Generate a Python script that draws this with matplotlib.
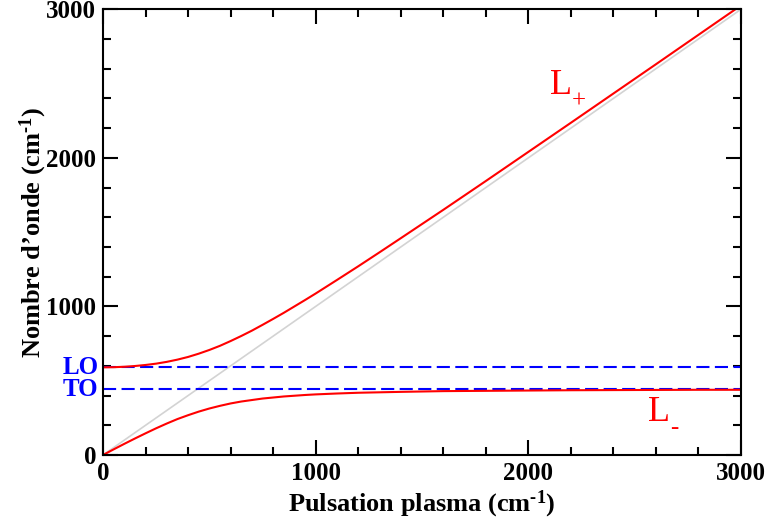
import matplotlib
matplotlib.use('Agg')
import matplotlib.pyplot as plt
from matplotlib.ticker import MultipleLocator

plt.rcParams['font.family'] = 'Liberation Serif'
plt.rcParams['mathtext.fontset'] = 'custom'
plt.rcParams['mathtext.rm'] = 'Liberation Serif:bold'
plt.rcParams['mathtext.it'] = 'Liberation Serif:italic'
plt.rcParams['mathtext.bf'] = 'Liberation Serif:bold'

# plasma pulsation (cm-1) and coupled mode frequencies
wp = [0, 50, 100, 150, 200, 250, 300, 350, 400, 450, 500, 550, 600, 650,
      700, 750, 800, 850, 900, 950, 1000, 1100, 1200, 1300, 1400,
      1600, 1800, 2000, 2200, 2400, 2600, 2800, 3000]
L_plus = [590, 591, 594, 599, 606, 615, 627, 642, 660, 682, 707, 735, 767, 801,
          837, 876, 916, 957, 1000, 1043, 1087, 1178, 1270, 1364, 1459,
          1650, 1844, 2040, 2236, 2433, 2630, 2828, 3026]
L_minus = [0, 38, 75, 111, 146, 180, 212, 242, 268, 292, 313, 331, 347, 360,
           370, 380, 387, 394, 399, 404, 408, 414, 419, 422, 425,
           430, 432, 434, 436, 437, 438, 439, 439]
diag = [0, 3000]
w_LO = 590
w_TO = 443

fig = plt.figure(figsize=(7.67, 5.27), dpi=100)
ax = fig.add_axes([0.1343, 0.1366, 0.8318, 0.8458])

ax.plot(diag, diag, c='#d3d3d3', lw=1.2)
ax.axhline(w_LO, c='blue', lw=1.5, ls=(0, (6.3, 2.6)))
ax.axhline(w_TO, c='blue', lw=1.5, ls=(0, (6.3, 2.6)))
ax.plot(wp, L_plus, c='red', lw=1.5)
ax.plot(wp, L_minus, c='red', lw=1.5)

# mode labels with subscripts
ax.text(2102, 2429, 'L', color='red', fontsize=26)
ax.annotate('+', xy=(2102, 2429), xytext=(16, -5), textcoords='offset points',
            color='red', fontsize=18, ha='left', va='center')
ax.text(2562, 229, 'L', color='red', fontsize=26)
ax.annotate('-', xy=(2562, 229), xytext=(16, -5), textcoords='offset points',
            color='red', fontsize=18, ha='left', va='center')

ax.set_xlim(0, 3000)
ax.set_ylim(0, 3000)
ax.xaxis.set_major_locator(MultipleLocator(1000))
ax.xaxis.set_minor_locator(MultipleLocator(200))
ax.yaxis.set_major_locator(MultipleLocator(1000))
ax.yaxis.set_minor_locator(MultipleLocator(200))
ax.tick_params(which='both', direction='in', top=True, right=True, width=1.5)
ax.tick_params(which='major', length=11, labelsize=18, pad=5)
ax.tick_params(which='minor', length=6)
for lab in ax.get_xticklabels() + ax.get_yticklabels():
    lab.set_fontweight('bold')
for s in ax.spines.values():
    s.set_linewidth(1.5)

ax.text(-0.007, w_LO, 'LO', color='blue', fontsize=18, fontweight='bold',
        ha='right', va='center', transform=ax.get_yaxis_transform())
ax.text(-0.007, w_TO, 'TO', color='blue', fontsize=18, fontweight='bold',
        ha='right', va='center', transform=ax.get_yaxis_transform())

ax.set_xlabel(r'Pulsation plasma (cm$^{\text{-1}}$)', fontsize=19, fontweight='bold', labelpad=3)
ax.set_ylabel(r'Nombre d’onde (cm$^{\text{-1}}$)', fontsize=19, fontweight='bold', labelpad=-2)

fig.savefig('out.png', dpi=100)
